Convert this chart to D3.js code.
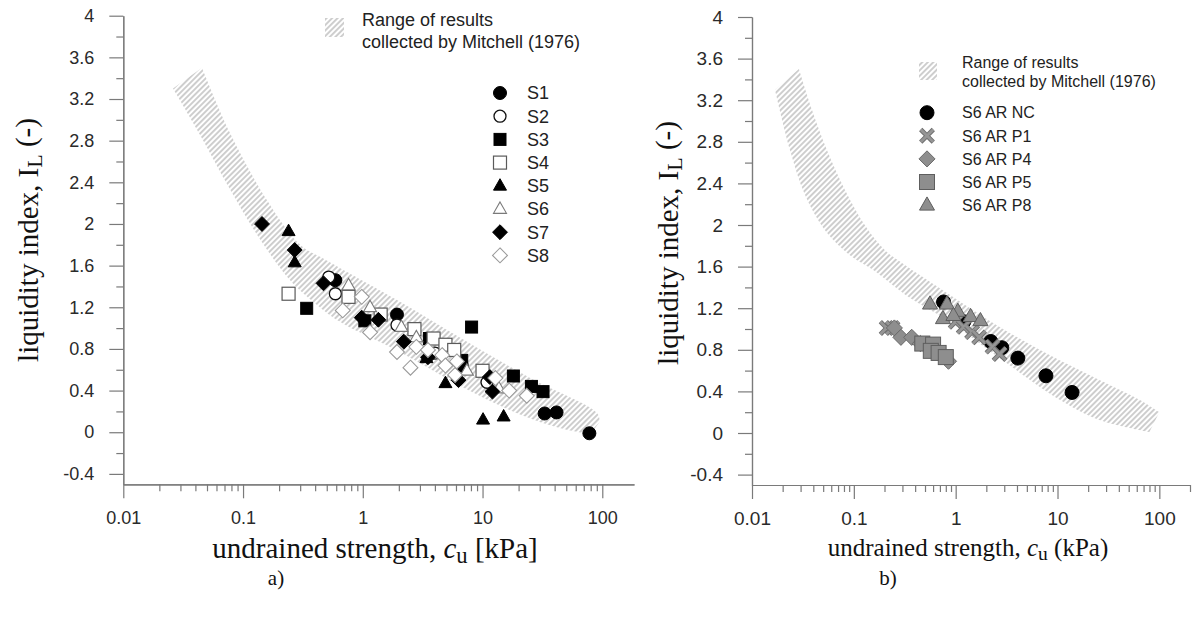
<!DOCTYPE html>
<html>
<head>
<meta charset="utf-8">
<script src="https://cdn.jsdelivr.net/npm/d3@7"></script>
<style>
  body { margin: 0; background: #fff; }
  .axis .domain, .axis line { stroke: #7a7a7a; stroke-width: 1.2; }
  .axis text { font-family: "Liberation Sans", Arial, sans-serif; fill: #2a2a2a; }
  .title { font-family: "Liberation Serif", "Times New Roman", serif; fill: #111; }
  .legend text { font-family: "Liberation Sans", Arial, sans-serif; fill: #222; }
</style>
</head>
<body>
<div id="vis-container"></div>
<script>
// ---- data: [cu (kPa), liquidity index]

// panel a) Mitchell band, upper edge (left to right) and lower edge (right to left)
var bandUpperA = [[0.0454, 3.50], [0.078, 2.87], [0.158, 2.23], [0.30, 1.80], [0.50, 1.65],
                  [1.93, 1.27], [6.9, 0.89], [25, 0.52], [91, 0.18], [95, 0.10]];
var bandLowerA = [[80, -0.02], [44, 0.04], [20.6, 0.17], [6.9, 0.43], [2.04, 0.77], [0.645, 1.06],
                  [0.37, 1.27], [0.247, 1.46], [0.139, 1.85], [0.078, 2.33], [0.044, 2.85], [0.026, 3.30]];

var s1 = [[0.59, 1.46], [1.93, 1.13], [6.7, 0.64], [33, 0.18], [41.5, 0.19], [78, -0.01]];
var s2 = [[0.52, 1.49], [0.59, 1.33], [1.93, 1.03], [4.0, 0.76], [10.9, 0.48]];
var s3 = [[0.34, 1.19], [1.04, 1.07], [3.6, 0.90], [6.7, 0.69], [8.1, 1.01], [18.1, 0.54], [25.6, 0.44], [32, 0.39]];
var s4 = [[0.24, 1.33], [0.76, 1.30], [1.41, 1.13], [2.7, 0.99], [3.9, 0.90], [4.9, 0.84], [5.8, 0.79], [10, 0.59]];
var s5 = [[0.24, 1.93], [0.27, 1.63], [3.4, 0.71], [4.9, 0.47], [10.1, 0.12], [15, 0.15]];
var s6 = [[0.76, 1.41], [1.15, 1.20], [2.1, 1.01], [2.8, 0.91], [7.4, 0.59], [13.7, 0.42]];
var s7 = [[0.144, 2.0], [0.27, 1.75], [0.47, 1.43], [0.98, 1.10], [1.35, 1.08], [2.2, 0.87],
          [3.5, 0.72], [6.3, 0.50], [11.5, 0.53], [12.1, 0.39]];
var s8 = [[0.68, 1.17], [0.98, 1.30], [1.15, 0.96], [1.93, 0.77], [2.5, 0.62], [2.8, 0.82], [3.5, 0.79],
          [4.6, 0.74], [4.9, 0.64], [5.9, 0.55], [6.1, 0.68], [12.8, 0.52], [16.7, 0.40], [23.4, 0.35]];
var namesA = ["S1", "S2", "S3", "S4", "S5", "S6", "S7", "S8"];

// panel b) Mitchell band
var bandUpperB = [[0.0289, 3.50], [0.0387, 3.11], [0.0544, 2.72], [0.0816, 2.34], [0.128, 2.0], [0.201, 1.76],
                  [0.302, 1.63], [0.873, 1.33], [2.70, 1.02], [8.35, 0.75], [25.8, 0.51], [63.7, 0.32], [100, 0.20]];
var bandLowerB = [[79.8, 0.01], [25.8, 0.125], [10.5, 0.32], [2.70, 0.72], [0.873, 1.07], [0.354, 1.30],
                  [0.154, 1.57], [0.0914, 1.71], [0.052, 1.95], [0.0331, 2.29], [0.0236, 2.72], [0.0168, 3.30]];

var arNC = [[0.76, 1.26], [1.2, 1.07], [2.21, 0.88], [2.84, 0.82], [4.08, 0.72], [7.7, 0.55], [13.9, 0.39]];
var arP1 = [[0.21, 1.01], [0.24, 1.01], [1.0, 1.07], [1.2, 1.02], [1.45, 0.97], [1.7, 0.92], [2.3, 0.83], [2.7, 0.76]];
var arP4 = [[0.25, 1.01], [0.29, 0.92], [0.37, 0.92], [0.45, 0.86], [0.6, 0.80], [0.85, 0.69]];
var arP5 = [[0.47, 0.86], [0.6, 0.85], [0.57, 0.79], [0.68, 0.77], [0.8, 0.73]];
var arP8 = [[0.56, 1.24], [0.82, 1.24], [0.75, 1.10], [1.05, 1.17], [0.95, 1.13], [1.4, 1.12], [1.75, 1.08]];
var namesB = ["S6 AR NC", "S6 AR P1", "S6 AR P4", "S6 AR P5", "S6 AR P8"];

var xTicks = [0.01, 0.1, 1, 10, 100];
var xTickLabels = ["0.01", "0.1", "1", "10", "100"];
var yTicks = [-0.4, 0, 0.4, 0.8, 1.2, 1.6, 2, 2.4, 2.8, 3.2, 3.6, 4];
var yTickLabels = ["-0.4", "0", "0.4", "0.8", "1.2", "1.6", "2", "2.4", "2.8", "3.2", "3.6", "4"];
var yMinor = [-0.2, 0.2, 0.6, 1.0, 1.4, 1.8, 2.2, 2.6, 3.0, 3.4, 3.8];

var legendTitle = ["Range of results", "collected by Mitchell (1976)"];

// ---- svg
var width = 1197, height = 621;
var svg = d3.select("#vis-container").append("svg")
    .attr("width", width)
    .attr("height", height);

var defs = svg.append("defs");
defs.append("pattern")
    .attr("id", "hatch")
    .attr("patternUnits", "userSpaceOnUse")
    .attr("width", 3.9).attr("height", 3.9)
    .attr("patternTransform", "rotate(45)")
  .append("line")
    .attr("x1", 1.95).attr("y1", -1).attr("x2", 1.95).attr("y2", 5)
    .attr("stroke", "#a2a2a2").attr("stroke-width", 1.05);

// draws one marker centred on (cx, cy)
function marker(g, st, cx, cy) {
    var s = st.size;
    var el;
    if (st.shape === "circle") {
        el = g.append("circle").attr("cx", cx).attr("cy", cy).attr("r", s / 2);
    } else if (st.shape === "square") {
        el = g.append("rect").attr("x", cx - s / 2).attr("y", cy - s / 2).attr("width", s).attr("height", s);
    } else if (st.shape === "triangle") {
        var h = s * 0.88;
        el = g.append("path").attr("d", "M" + cx + "," + (cy - h * 0.62) + "L" + (cx + s / 2) + "," + (cy + h * 0.38) +
            "L" + (cx - s / 2) + "," + (cy + h * 0.38) + "Z");
    } else if (st.shape === "diamond") {
        var d = s * 0.62;
        el = g.append("path").attr("d", "M" + cx + "," + (cy - d) + "L" + (cx + d) + "," + cy +
            "L" + cx + "," + (cy + d) + "L" + (cx - d) + "," + cy + "Z");
    } else if (st.shape === "cross") {
        var c = s * 0.42;
        var dd = "M" + (cx - c) + "," + (cy - c) + "L" + (cx + c) + "," + (cy + c) +
            "M" + (cx - c) + "," + (cy + c) + "L" + (cx + c) + "," + (cy - c);
        g.append("path").attr("d", dd).attr("stroke", "#6e6e6e").attr("stroke-width", 4.6).attr("fill", "none");
        return g.append("path").attr("d", dd).attr("stroke", "#959595").attr("stroke-width", 2.8).attr("fill", "none");
    }
    return el.attr("fill", st.fill).attr("stroke", st.stroke).attr("stroke-width", st.sw);
}

function drawPanel(p) {
    var x = d3.scaleLog().domain([0.01, p.xMax]).range([p.left, p.right]);
    var y = d3.scaleLinear().domain([-0.5, 4]).range([p.bottom, p.top]);

    // hatched Mitchell range
    var line = d3.line().x(d => x(d[0])).y(d => y(d[1])).curve(d3.curveCatmullRom.alpha(0.5));
    var up = line(p.bandUpper);
    var lo = line(p.bandLower);
    svg.append("path")
        .attr("d", up + "L" + lo.slice(1) + "Z")
        .attr("fill", "url(#hatch)");

    // axes
    var xMinor = [];
    xTicks.forEach(function (dec) {
        for (var k = 2; k < 10; k++) if (dec * k <= p.xMax) xMinor.push(dec * k);
    });
    var axisG = svg.append("g");
    axisG.append("g").attr("class", "axis")
        .attr("transform", "translate(0," + p.bottom + ")")
        .call(d3.axisBottom(x).tickValues(xMinor).tickSize(7).tickSizeOuter(0).tickFormat(""));
    axisG.append("g").attr("class", "axis")
        .attr("transform", "translate(0," + p.bottom + ")")
        .call(d3.axisBottom(x).tickValues(xTicks).tickSize(14).tickPadding(13).tickSizeOuter(0)
            .tickFormat((d, i) => xTickLabels[i]))
        .selectAll("text").style("font-size", p.tickFont + "px");
    axisG.append("g").attr("class", "axis")
        .attr("transform", "translate(" + p.left + ",0)")
        .call(d3.axisLeft(y).tickValues(yMinor).tickSize(7).tickSizeOuter(0).tickFormat(""));
    axisG.append("g").attr("class", "axis")
        .attr("transform", "translate(" + p.left + ",0)")
        .call(d3.axisLeft(y).tickValues(yTicks).tickSize(14).tickPadding(15).tickSizeOuter(0)
            .tickFormat((d, i) => yTickLabels[i]))
        .selectAll("text").style("font-size", p.tickFont + "px");

    // markers
    var markG = svg.append("g");
    p.series.forEach(function (ser, i) {
        ser.forEach(function (d) { marker(markG, p.styles[i], x(d[0]), y(d[1])); });
    });

    // legend
    var leg = svg.append("g").attr("class", "legend");
    leg.append("rect")
        .attr("x", p.hatchX).attr("y", p.hatchY).attr("width", p.hatchW).attr("height", p.hatchW)
        .attr("fill", "url(#hatch)");
    legendTitle.forEach(function (t, i) {
        leg.append("text").attr("x", p.titleX).attr("y", p.titleY + i * p.titleGap)
            .style("font-size", p.titleFont + "px").text(t);
    });
    p.names.forEach(function (n, i) {
        var ly = p.legY + i * p.legGap;
        marker(leg, p.styles[i], p.legX, ly);
        leg.append("text").attr("x", p.legTextX).attr("y", ly).attr("dy", "0.36em")
            .style("font-size", p.legFont + "px").text(n);
    });

    // axis titles
    var yt = svg.append("text").attr("class", "title")
        .attr("transform", "translate(" + p.yTitleX + "," + p.yTitleY + ") rotate(-90)")
        .attr("text-anchor", "middle").style("font-size", "29px");
    yt.append("tspan").text("liquidity index, I");
    yt.append("tspan").attr("dy", "0.18em").style("font-size", "22px").text("L");
    yt.append("tspan").attr("dy", "-0.2em").text(" (-)");

    var xt = svg.append("text").attr("class", "title")
        .attr("x", p.xTitleX).attr("y", p.xTitleY)
        .attr("text-anchor", "middle").style("font-size", p.xTitleFont + "px");
    xt.append("tspan").text("undrained strength, ");
    xt.append("tspan").style("font-style", "italic").text("c");
    xt.append("tspan").attr("dy", "0.2em").style("font-size", "0.78em").text("u");
    xt.append("tspan").attr("dy", "-0.16em").text(" " + p.unit);

    svg.append("text").attr("class", "title")
        .attr("x", p.tagX).attr("y", 585).attr("text-anchor", "middle")
        .style("font-size", "21px").text(p.tag);
}

var stylesA = [
    { shape: "circle", size: 13, fill: "#000", stroke: "#000", sw: 1 },
    { shape: "circle", size: 12, fill: "#fff", stroke: "#111", sw: 1.3 },
    { shape: "square", size: 12, fill: "#000", stroke: "#000", sw: 1 },
    { shape: "square", size: 13, fill: "#fff", stroke: "#5a5a5a", sw: 1.2 },
    { shape: "triangle", size: 13, fill: "#000", stroke: "#000", sw: 1 },
    { shape: "triangle", size: 13, fill: "#fff", stroke: "#7a7a7a", sw: 1.1 },
    { shape: "diamond", size: 12, fill: "#000", stroke: "#000", sw: 1 },
    { shape: "diamond", size: 12, fill: "#fff", stroke: "#9a9a9a", sw: 1.1 }
];
var stylesB = [
    { shape: "circle", size: 14, fill: "#000", stroke: "#000", sw: 1 },
    { shape: "cross", size: 15 },
    { shape: "diamond", size: 13, fill: "#8e8e8e", stroke: "#6a6a6a", sw: 1 },
    { shape: "square", size: 15, fill: "#8e8e8e", stroke: "#5e5e5e", sw: 1 },
    { shape: "triangle", size: 15, fill: "#8e8e8e", stroke: "#5e5e5e", sw: 1 }
];

drawPanel({
    left: 123.3, right: 634, top: 15.7, bottom: 484.3, xMax: 184,
    bandUpper: bandUpperA, bandLower: bandLowerA,
    series: [s1, s2, s3, s4, s5, s6, s7, s8], styles: stylesA, names: namesA,
    tickFont: 18, legFont: 18, legX: 500, legTextX: 527, legY: 93, legGap: 23.2,
    hatchX: 325, hatchY: 18, hatchW: 19, titleX: 362, titleY: 26, titleGap: 22, titleFont: 18,
    yTitleX: 38, yTitleY: 240, xTitleX: 375, xTitleY: 558, xTitleFont: 29, unit: "[kPa]",
    tagX: 276, tag: "a)"
});

drawPanel({
    left: 752, right: 1190, top: 17, bottom: 485, xMax: 200,
    bandUpper: bandUpperB, bandLower: bandLowerB,
    series: [arNC, arP1, arP4, arP5, arP8], styles: stylesB, names: namesB,
    tickFont: 19, legFont: 16, legX: 927, legTextX: 962, legY: 112.7, legGap: 23.1,
    hatchX: 919, hatchY: 62, hatchW: 18, titleX: 962, titleY: 68, titleGap: 19, titleFont: 16,
    yTitleX: 678, yTitleY: 243, xTitleX: 968, xTitleY: 556, xTitleFont: 25, unit: "(kPa)",
    tagX: 888, tag: "b)"
});
</script>
</body>
</html>
